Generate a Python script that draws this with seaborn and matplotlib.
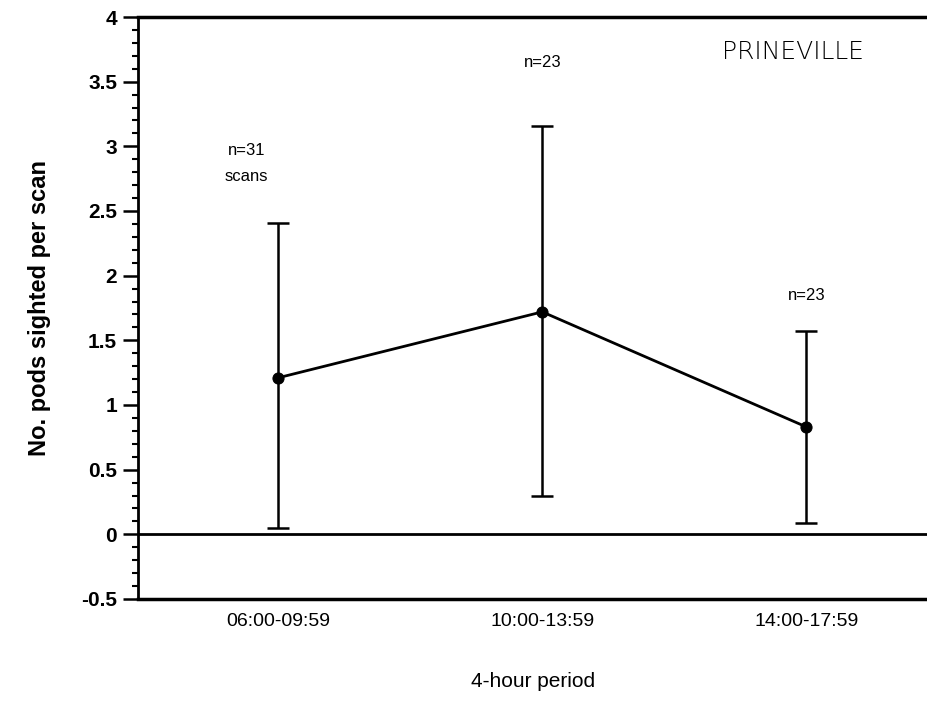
import matplotlib
matplotlib.use("Agg")
import matplotlib.pyplot as plt
from matplotlib.ticker import MultipleLocator
import seaborn as sns
import pandas as pd
import numpy as np

# Data
periods = ["06:00-09:59", "10:00-13:59", "14:00-17:59"]
mean_pods = [1.21, 1.72, 0.83]
upper = [2.41, 3.16, 1.57]
lower = [0.05, 0.30, 0.09]
n_labels = ["n=31\nscans", "n=23", "n=23"]
yticks = [-0.5, 0, 0.5, 1, 1.5, 2, 2.5, 3, 3.5, 4]
ytick_labels = ["-0.5", "0", "0.5", "1", "1.5", "2", "2.5", "3", "3.5", "4"]

sns.set_theme(style="white")
plt.rcParams['font.family'] = ['Liberation Sans', 'DejaVu Sans']
plt.rcParams['text.color'] = 'black'
plt.rcParams['axes.labelcolor'] = 'black'
plt.rcParams['xtick.color'] = 'black'
plt.rcParams['ytick.color'] = 'black'

fig = plt.figure(figsize=(9.28, 7.24), dpi=100)
ax = fig.add_axes([0.1487, 0.1727, 0.8513, 0.8038])

df = pd.DataFrame({"pos": np.arange(len(periods)), "mean": mean_pods})
sns.lineplot(data=df, x="pos", y="mean", ax=ax, color="black", linewidth=2,
             marker="o", markersize=8, markeredgecolor="black", legend=False)

pos = np.arange(len(periods))
means = np.array(mean_pods)
yerr = np.vstack([means - np.array(lower), np.array(upper) - means])
ax.errorbar(pos, means, yerr=yerr, fmt="none", ecolor="black", elinewidth=1.8,
            capsize=8, capthick=1.8)

ax.axhline(0, color="black", linewidth=2)

ax.set_xlim(-0.53, 2.46)
ax.set_ylim(-0.5, 4)
ax.set_xticks(pos)
ax.set_xticklabels(periods, fontsize=14)
ax.set_yticks(yticks)
ax.set_yticklabels(ytick_labels, fontsize=15, fontweight="bold")
ax.yaxis.set_minor_locator(MultipleLocator(0.1))
ax.tick_params(axis="y", which="major", direction="out", length=11, width=1.8,
               color="black", left=True, pad=4)
ax.tick_params(axis="y", which="minor", direction="out", length=4, width=1.5,
               color="black", left=True)
ax.tick_params(axis="x", length=0, pad=10)

for s in ["top", "bottom", "left"]:
    ax.spines[s].set_visible(True)
    ax.spines[s].set_color("black")
ax.spines["top"].set_linewidth(2.5)
ax.spines["bottom"].set_linewidth(2.5)
ax.spines["left"].set_linewidth(2)
ax.spines["right"].set_visible(False)

ax.set_xlabel("4-hour period", fontsize=15, labelpad=30)
ax.set_ylabel("No. pods sighted per scan", fontsize=17, fontweight="bold",
              labelpad=22)

# n annotations
ax.text(-0.12, 2.87, n_labels[0], ha="center", va="center", fontsize=12,
        linespacing=1.9)
ax.text(1.0, 3.65, n_labels[1], ha="center", va="center", fontsize=12)
ax.text(2.0, 1.85, n_labels[2], ha="center", va="center", fontsize=12)

ax.text(1.95, 3.73, "PRINEVILLE", ha="center", va="center", fontsize=18,
        family="DejaVu Sans", fontweight="light")

fig.savefig("out.png", dpi=100)
